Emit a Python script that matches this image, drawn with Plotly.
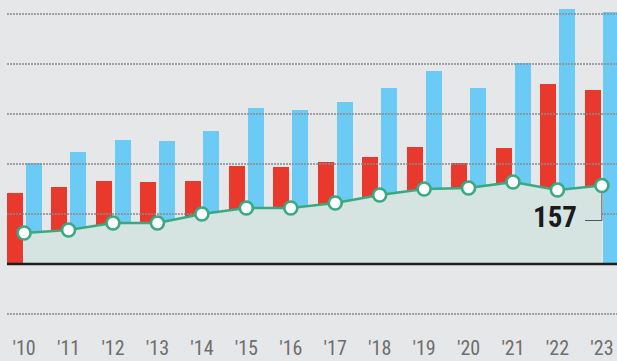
import plotly.graph_objects as go

years = ["'10", "'11", "'12", "'13", "'14", "'15", "'16", "'17", "'18", "'19", "'20", "'21", "'22", "'23"]
red_vals = [142, 154, 166, 164, 166, 196, 194, 204, 214, 234, 202, 232, 360, 348]
blue_vals = [202, 224, 248, 246, 266, 312, 308, 324, 352, 386, 352, 402, 510, 504]
line_vals = [62, 68, 82, 82, 100, 112, 112, 122, 138, 150, 152, 164, 148, 157]
grid_vals = [-100, 100, 200, 300, 400, 500]

BG = "#e6e7e9"
RED = "#e9392c"
BLUE = "#6ccbf4"
GREEN = "#3aa981"
AREA = "#d5e4e0"
FONT = "Liberation Sans Narrow, Roboto Condensed, Roboto, sans-serif"

x = list(range(len(years)))
xr = [-0.385, len(years) - 1 + 0.34]

fig = go.Figure()
fig.add_trace(go.Bar(x=x, y=red_vals, marker_color=RED, marker_line_width=0,
                     offset=-0.39, width=0.36, showlegend=False))
fig.add_trace(go.Bar(x=x, y=blue_vals, marker_color=BLUE, marker_line_width=0,
                     offset=0.035, width=0.36, showlegend=False))

for g in grid_vals:
    fig.add_trace(go.Scatter(x=xr, y=[g, g], mode="lines",
                             line=dict(color="#8a8b8d", width=1.3, dash="2px,1px"),
                             showlegend=False, hoverinfo="skip"))

fig.add_trace(go.Scatter(x=x, y=line_vals, mode="none", fill="tozeroy",
                         fillcolor=AREA, showlegend=False, hoverinfo="skip"))

fig.add_trace(go.Scatter(x=xr, y=[0, 0], mode="lines",
                         line=dict(color="#1e1e1e", width=2.5),
                         showlegend=False, hoverinfo="skip"))

last = line_vals[-1]
fig.add_trace(go.Scatter(x=[x[-1] - 0.38, x[-1], x[-1]], y=[last - 70, last - 70, last - 14],
                         mode="lines", line=dict(color="#555555", width=1),
                         showlegend=False, hoverinfo="skip"))

fig.add_trace(go.Scatter(x=x, y=line_vals, mode="lines+markers",
                         line=dict(color=GREEN, width=2.6),
                         marker=dict(size=13, color="white", line=dict(color=GREEN, width=2.6)),
                         showlegend=False))

fig.add_annotation(x=x[-1], y=last, text=f"<b>{last}</b>", showarrow=False,
                   xshift=-47, yshift=-31, xanchor="center", yanchor="middle",
                   font=dict(family=FONT, size=29, color="#1b1b1b"))

fig.update_layout(
    width=617, height=361,
    margin=dict(l=7, r=0, t=0, b=31),
    paper_bgcolor=BG, plot_bgcolor=BG,
    bargap=0, barmode="overlay",
    xaxis=dict(range=xr, tickvals=x, ticktext=years, showgrid=False, zeroline=False,
               showline=False, ticks="", ticklabelstandoff=4,
               tickfont=dict(family=FONT, size=20, color="#6e6e6e"),
               fixedrange=True),
    yaxis=dict(range=[-132, 528], showgrid=False, zeroline=False, showticklabels=False,
               showline=False, fixedrange=True),
    showlegend=False,
)

fig.write_html("out.html")
